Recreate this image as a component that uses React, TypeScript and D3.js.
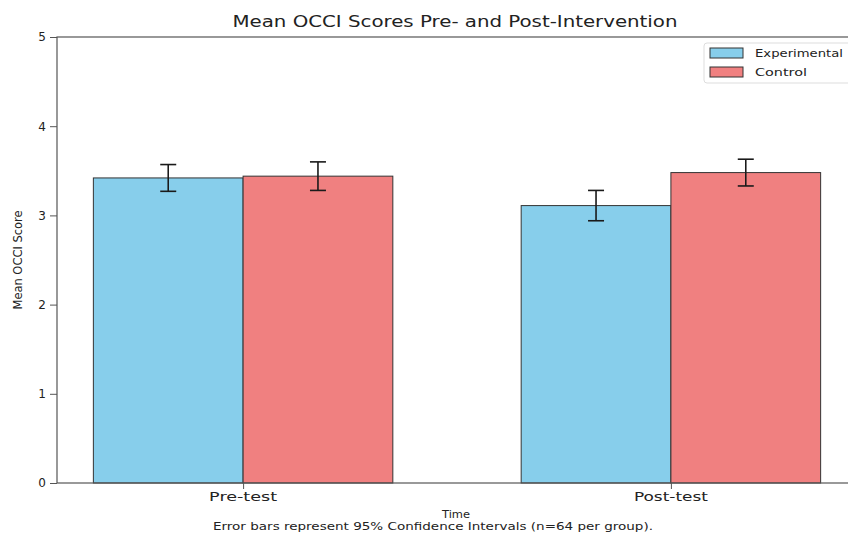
import React, { useEffect, useRef } from "react";
import * as d3 from "d3";

const times = ["Pre-test", "Post-test"];
const groups = ["Experimental", "Control"];
const means = [
  [3.42, 3.44],
  [3.11, 3.48],
];
const ciHalf = [
  [0.15, 0.16],
  [0.17, 0.15],
];
const yTicks = [0, 1, 2, 3, 4, 5];
const colors = ["#87CEEB", "#F08080"];

const W = 848;
const H = 536;
const FONT = "'DejaVu Sans', 'Noto Sans', sans-serif";

const App = () => {
  const ref = useRef<SVGSVGElement>(null);

  useEffect(() => {
    const svg = d3.select(ref.current);
    svg.selectAll("*").remove();

    const barW = 0.35;
    const x = d3.scaleLinear().domain([-0.435, 1.435]).range([57, 857]);
    const y = d3.scaleLinear().domain([0, 5]).range([483, 37]);

    // stretched text helper (reference text is wide)
    const txt = (
      sel: any,
      s: string,
      cx: number,
      cy: number,
      size: number,
      len: number,
      anchor = "middle"
    ) =>
      sel
        .append("text")
        .attr("x", cx)
        .attr("y", cy)
        .attr("text-anchor", anchor)
        .attr("font-family", FONT)
        .attr("font-size", size)
        .attr("fill", "#222")
        .attr("textLength", len)
        .attr("lengthAdjust", "spacingAndGlyphs")
        .text(s);

    const g = svg.append("g");

    times.forEach((t, i) => {
      groups.forEach((grp, j) => {
        const x0 = i + (j === 0 ? -barW : 0);
        g.append("rect")
          .attr("x", x(x0))
          .attr("y", y(means[i][j]))
          .attr("width", x(x0 + barW) - x(x0))
          .attr("height", y(0) - y(means[i][j]))
          .attr("fill", colors[j])
          .attr("stroke", "#333")
          .attr("stroke-width", 1);
      });
    });

    times.forEach((t, i) => {
      groups.forEach((grp, j) => {
        const cx = x(i + (j === 0 ? -barW / 2 : barW / 2));
        const lo = y(means[i][j] - ciHalf[i][j]);
        const hi = y(means[i][j] + ciHalf[i][j]);
        const eb = g.append("g").attr("stroke", "#1a1a1a").attr("stroke-width", 1.6);
        eb.append("line").attr("x1", cx).attr("x2", cx).attr("y1", lo).attr("y2", hi);
        eb.append("line").attr("x1", cx - 8).attr("x2", cx + 8).attr("y1", lo).attr("y2", lo);
        eb.append("line").attr("x1", cx - 8).attr("x2", cx + 8).attr("y1", hi).attr("y2", hi);
      });
    });

    svg.append("rect")
      .attr("x", x(-0.435))
      .attr("y", y(5))
      .attr("width", x(1.435) - x(-0.435))
      .attr("height", y(0) - y(5))
      .attr("fill", "none")
      .attr("stroke", "#555")
      .attr("stroke-width", 1.2);

    // y axis
    const yAxis = svg
      .append("g")
      .attr("transform", `translate(${x(-0.435)},0)`)
      .call(d3.axisLeft(y).tickValues(yTicks).tickFormat(d3.format("d")).tickSize(7).tickPadding(4));
    yAxis.select(".domain").remove();
    yAxis.selectAll("line").attr("stroke", "#555");
    yAxis.selectAll("text").attr("font-family", FONT).attr("font-size", 12).attr("fill", "#222");

    // x axis
    const xAxis = svg
      .append("g")
      .attr("transform", `translate(0,${y(0)})`)
      .call(d3.axisBottom(x).tickValues([0, 1]).tickFormat(() => "").tickSize(6));
    xAxis.select(".domain").remove();
    xAxis.selectAll("line").attr("stroke", "#555");
    times.forEach((t, i) => txt(svg, t, x(i), 501, 13, i === 0 ? 68 : 74));

    // title
    txt(svg, "Mean OCCI Scores Pre- and Post-Intervention", 455, 27, 16, 445);

    // axis labels
    svg.append("text")
      .attr("transform", `translate(22,${(y(0) + y(5)) / 2}) rotate(-90)`)
      .attr("text-anchor", "middle")
      .attr("font-family", FONT)
      .attr("font-size", 12)
      .attr("fill", "#222")
      .attr("textLength", 99)
      .attr("lengthAdjust", "spacingAndGlyphs")
      .text("Mean OCCI Score");

    txt(svg, "Time", 456, 518, 11, 28);
    txt(svg, "Error bars represent 95% Confidence Intervals (n=64 per group).", 433, 530, 10, 440);

    // legend
    const lg = svg.append("g").attr("transform", "translate(704,43)");
    lg.append("rect")
      .attr("width", 160)
      .attr("height", 40)
      .attr("rx", 3)
      .attr("fill", "white")
      .attr("fill-opacity", 0.8)
      .attr("stroke", "#ddd");
    const legendLen = [88, 52];
    groups.forEach((grp, j) => {
      lg.append("rect")
        .attr("x", 6)
        .attr("y", 5 + j * 19)
        .attr("width", 33)
        .attr("height", 10)
        .attr("fill", colors[j])
        .attr("stroke", "#333");
      txt(lg, grp, 51, 14 + j * 19, 11, legendLen[j], "start");
    });
  }, []);

  return (
    <svg
      ref={ref}
      width={W}
      height={H}
      style={{ position: "absolute", left: 0, top: 0, background: "white" }}
    ></svg>
  );
};

export default App;
